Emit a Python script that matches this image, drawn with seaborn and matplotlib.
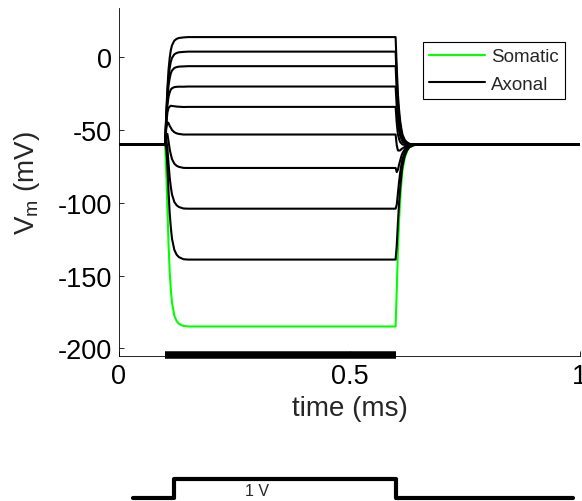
import numpy as np
import pandas as pd
import matplotlib
matplotlib.use("Agg")
import matplotlib.pyplot as plt
import seaborn as sns

# Steady-state membrane potentials (mV) during the 0.1-0.6 ms pulse
axonal_levels = [14, 4, -6, -20, -34, -53, -76, -104, -139]
somatic_levels = [-185]
rest_mv = -60.0

# Timing of the stimulus (ms)
t_start, t_stop, t_end = 0.1, 0.6, 1.0

# Onset kinetics: time after pulse start (ms), fraction of the step reached,
# and the brief depolarising transient seen in the axonal traces (mV)
on_dt = [0, 0.0025, 0.005, 0.0075, 0.01, 0.0125, 0.015, 0.02, 0.025, 0.03, 0.04, 0.05]
on_frac = [0, 0.15, 0.35, 0.55, 0.70, 0.80, 0.87, 0.94, 0.97, 0.985, 0.997, 1.0]
on_bump = [0, 10, 13, 11, 8, 6, 4, 2, 1, 0.5, 0, 0]

# Offset kinetics after the pulse ends
off_dt = [0, 0.0025, 0.005, 0.0075, 0.01, 0.0125, 0.015, 0.02, 0.025, 0.03, 0.04, 0.05]
off_frac = [0, 0.20, 0.42, 0.58, 0.70, 0.79, 0.86, 0.93, 0.965, 0.985, 0.997, 1.0]
off_bump = [0, -6, -8, -7, -6, -4.5, -3.5, -2, -1, -0.5, 0, 0]

# Stimulus waveform sketch below the axes
pulse_t = [0.03, 0.12, 0.12, 0.6, 0.6, 0.985]
pulse_v = [0, 0, 1, 1, 0, 0]
pulse_label = "1 V"


def trace(level, with_bump):
    """Build one voltage trace from its plateau level and the step kinetics."""
    step = level - rest_mv
    b_on = np.array(on_bump) if with_bump else np.zeros(len(on_bump))
    b_off = np.array(off_bump) if with_bump else np.zeros(len(off_bump))
    t = [0.0]
    v = [rest_mv]
    t += list(t_start + np.array(on_dt))
    v += list(rest_mv + step * np.array(on_frac) + b_on)
    t += list(t_stop + np.array(off_dt))
    v += list(level - step * np.array(off_frac) + b_off)
    t.append(t_end)
    v.append(rest_mv)
    return np.array(t), np.array(v)


rows = []
for i, lv in enumerate(somatic_levels):
    t, v = trace(lv, False)
    rows.append(pd.DataFrame({"t": t, "v": v, "site": "Somatic", "unit": f"s{i}"}))
for i, lv in enumerate(axonal_levels):
    t, v = trace(lv, True)
    rows.append(pd.DataFrame({"t": t, "v": v, "site": "Axonal", "unit": f"a{i}"}))
df = pd.concat(rows, ignore_index=True)

sns.set_style("ticks")
plt.rcParams["font.family"] = ["Liberation Sans", "DejaVu Sans"]
plt.rcParams["mathtext.fontset"] = "custom"
plt.rcParams["mathtext.rm"] = "Liberation Sans"
plt.rcParams["mathtext.it"] = "Liberation Sans"
plt.rcParams["axes.unicode_minus"] = False

fig = plt.figure(figsize=(5.82, 5.02), dpi=100)
W, H = 582, 502
ax = fig.add_axes([119 / W, 1 - 357 / H, 461 / W, 348 / H])

palette = {"Somatic": (0.0, 1.0, 0.0), "Axonal": "black"}
for site in ["Somatic", "Axonal"]:
    sub = df[df["site"] == site]
    sns.lineplot(data=sub, x="t", y="v", units="unit", estimator=None,
                 sort=False, color=palette[site], lw=1.5, ax=ax, legend=False)

# Pulse duration bar along the bottom of the axes
ax.plot([t_start, t_stop], [-204.4, -204.4], color="black", lw=5.4,
        solid_capstyle="butt", clip_on=False, zorder=5)

ax.set_xlim(0, 1)
ax.set_ylim(-205.3, 34)
ax.set_xticks([0, 0.5, 1])
ax.set_xticklabels(["0", "0.5", "1"])
ax.set_yticks([-200, -150, -100, -50, 0])
ax.tick_params(direction="in", length=3.3, width=0.6, labelsize=19.5, pad=5,
               colors="black")
for side in ["top", "right"]:
    ax.spines[side].set_visible(False)
for side in ["left", "bottom"]:
    ax.spines[side].set_linewidth(0.6)
    ax.spines[side].set_color("black")

ax.set_xlabel("time (ms)", fontsize=20)
ax.set_ylabel(r"V$_\mathregular{m}$ (mV)", fontsize=20)
ax.xaxis.set_label_coords(0.5, -0.112)
ax.yaxis.set_label_coords(-0.168, 0.5)

handles = [plt.Line2D([], [], color=palette["Somatic"], lw=1.5),
           plt.Line2D([], [], color="black", lw=1.5)]
leg = ax.legend(handles, ["Somatic", "Axonal"], loc="upper right",
                bbox_to_anchor=(0.967, 0.902), borderaxespad=0, fontsize=13.5,
                frameon=True, fancybox=False, framealpha=1, edgecolor="black",
                borderpad=0.32, handlelength=3.0, handletextpad=0.3,
                labelspacing=0.55)
leg.get_frame().set_linewidth(0.8)

# Stimulus waveform schematic
ax2 = fig.add_axes([119 / W, 1 - 505 / H, 461 / W, 34 / H])
ax2.set_xlim(0, 1)
ax2.set_ylim(-0.3, 1.45)
ax2.axis("off")
sns.lineplot(x=pulse_t, y=pulse_v, sort=False, estimator=None, color="black",
             lw=3, ax=ax2)
ax2.text(0.30, 0.38, pulse_label, fontsize=11.5, ha="center", va="center")

fig.savefig("out.png", dpi=100)
